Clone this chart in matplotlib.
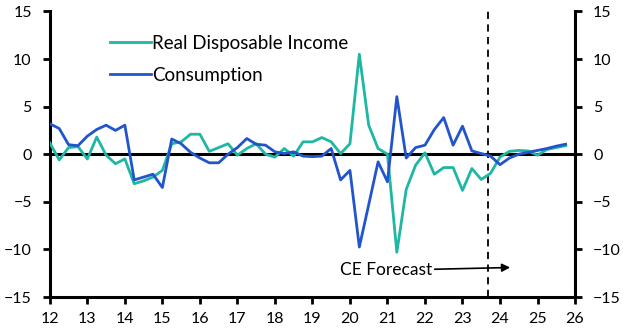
import matplotlib
matplotlib.use("Agg")
import matplotlib.pyplot as plt
import numpy as np

# Quarterly data, 2012Q1 .. 2025Q4 (% y/y-ish)
start_year = 12
income = [1.2, -0.6, 0.7, 0.8, -0.5, 1.8, -0.1, -1.0, -0.5, -3.1,
          -2.8, -2.4, -1.7, 1.1, 1.3, 2.1, 2.1, 0.3, 0.7, 1.1,
          -0.1, 0.6, 1.1, 0.0, -0.3, 0.6, -0.2, 1.3, 1.3, 1.75,
          1.3, 0.07, 1.1, 10.5, 3.05, 0.6, 0.0, -10.3, -3.7, -1.15,
          0.15, -2.1, -1.4, -1.4, -3.8, -1.5, -2.65, -2.0, -0.3, 0.3,
          0.4, 0.35, -0.1, 0.5, 0.7, 0.9]
consumption = [3.2, 2.7, 1.0, 0.9, 1.9, 2.6, 3.05, 2.5, 3.05, -2.7,
               -2.4, -2.1, -3.5, 1.6, 1.1, 0.2, -0.4, -0.9, -0.9, 0.0,
               0.7, 1.65, 1.05, 0.95, 0.25, 0.07, 0.25, -0.2, -0.25, -0.2,
               0.6, -2.7, -1.7, -9.75, -5.3, -0.8, -2.9, 6.05, -0.4, 0.7,
               0.95, 2.6, 3.85, 0.95, 2.95, 0.35, 0.07, -0.2, -1.1, -0.4,
               0.0, 0.2, 0.4, 0.6, 0.85, 1.05]
x_ticks = list(range(12, 27))
y_ticks = [-15, -10, -5, 0, 5, 10, 15]
forecast_start = 23.68
series_names = ["Real Disposable Income", "Consumption"]

x = start_year + np.arange(len(income)) / 4.0

plt.rcParams['font.family'] = ['Lato', 'DejaVu Sans']
fig = plt.figure(figsize=(6.23, 3.36), dpi=100)
ax = fig.add_axes([0.080, 0.116, 0.843, 0.850])

teal = '#1DB7A3'
blue = '#2254CC'
ax.axhline(0, color='black', lw=2.2, zorder=2)
ax.plot(x, income, color=teal, lw=2.0, label=series_names[0], zorder=3)
ax.plot(x, consumption, color=blue, lw=2.0, label=series_names[1], zorder=4)
ax.axvline(forecast_start, color='black', lw=1.3, ls=(0, (4, 3)), zorder=1)

ax.set_xlim(12, 26)
ax.set_ylim(-15, 15)
ax.set_xticks(x_ticks)
ax.set_xticklabels([str(t) for t in x_ticks])
ax.set_yticks(y_ticks)

for s in ['left', 'right', 'bottom']:
    ax.spines[s].set_linewidth(2.2)
ax.spines['top'].set_visible(False)

ax.tick_params(axis='both', direction='out', width=2, length=5, labelsize=11.5,
               color='black')
ax.tick_params(axis='y', right=True, labelright=True, pad=8)
ax.tick_params(axis='x', pad=6)

ax.annotate('CE Forecast', xy=(24.27, -11.9), xytext=(19.73, -12.2),
            fontsize=12.5, va='center', ha='left',
            arrowprops=dict(arrowstyle='-|>', color='black', lw=1.2,
                            shrinkA=72, shrinkB=0, mutation_scale=12))

leg = ax.legend(loc='upper left', bbox_to_anchor=(0.082, 0.978), frameon=False,
                fontsize=13.5, handlelength=2.2, handletextpad=0.05,
                labelspacing=0.82)

fig.savefig('out.png', dpi=100)
